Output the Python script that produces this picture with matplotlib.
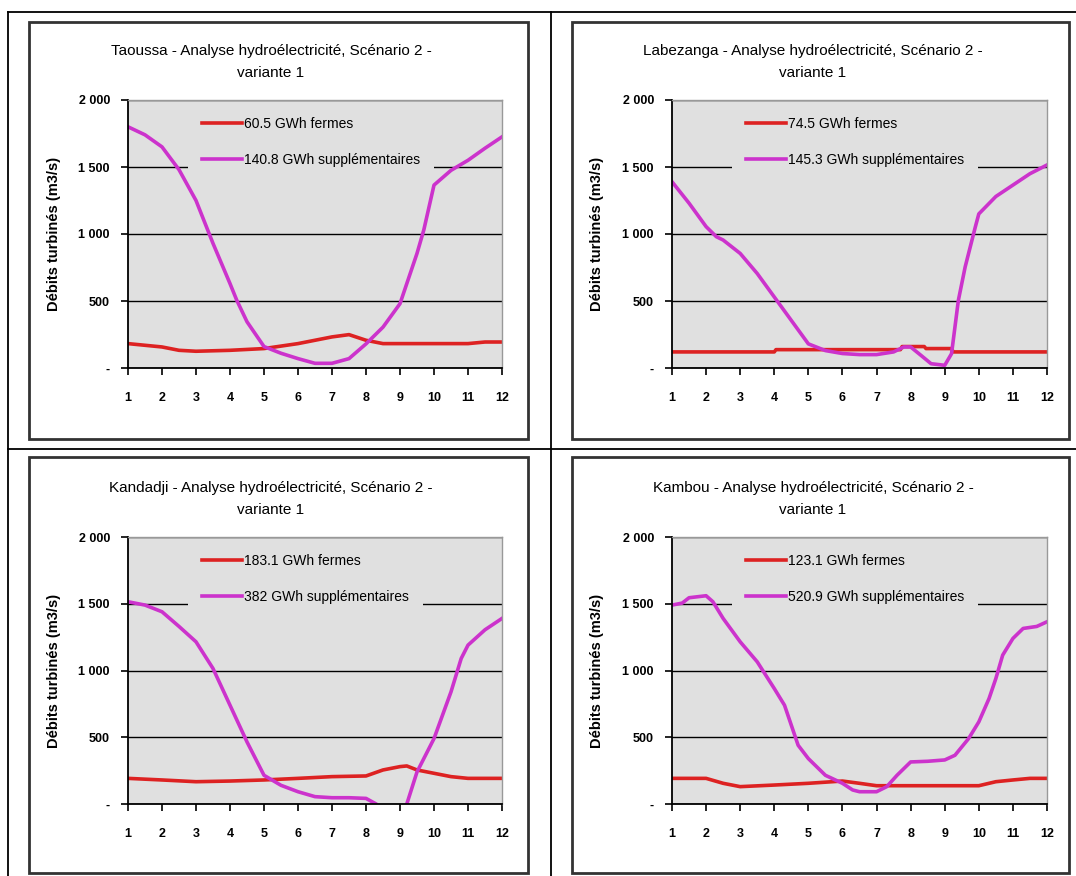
import matplotlib
matplotlib.use("Agg")
import matplotlib.pyplot as plt
from matplotlib.lines import Line2D
from matplotlib.patches import Rectangle

plt.rcParams['font.family'] = ['Liberation Sans', 'DejaVu Sans']

# ---- data (month 1..12, m3/s) ----
titles = ["Taoussa", "Labezanga", "Kandadji", "Kambou"]
legend_fermes = ["60.5 GWh fermes", "74.5 GWh fermes", "183.1 GWh fermes", "123.1 GWh fermes"]
legend_supp = ["140.8 GWh supplémentaires", "145.3 GWh supplémentaires",
               "382 GWh supplémentaires", "520.9 GWh supplémentaires"]

taoussa_x_supp = [1, 1.5, 2, 2.5, 3, 3.5, 4, 4.2, 4.5, 5, 5.5, 6, 6.5, 7, 7.5, 8, 8.5, 9,
                  9.3, 9.5, 9.7, 10, 10.5, 11, 11.5, 12]
taoussa_supp = [1800, 1740, 1650, 1480, 1250, 930, 630, 505, 345, 160, 110, 70, 35, 35, 70,
                180, 305, 480, 705, 855, 1030, 1365, 1475, 1550, 1640, 1725]
taoussa_x_fermes = [1, 2, 2.5, 3, 4, 5, 6, 6.5, 7, 7.5, 8, 8.5, 9, 11, 11.5, 12]
taoussa_fermes = [182, 157, 132, 125, 132, 145, 182, 207, 232, 249, 207, 182, 182, 182, 194, 194]

labezanga_x_supp = [1, 1.5, 2, 2.3, 2.5, 3, 3.5, 4, 4.5, 5, 5.5, 6, 6.5, 7, 7.5, 7.8, 8, 8.3,
                    8.6, 9, 9.2, 9.4, 9.6, 9.9, 10, 10.5, 11, 11.5, 12]
labezanga_supp = [1390, 1230, 1055, 980, 955, 855, 705, 530, 355, 180, 130, 108, 100, 100, 120,
                  157, 157, 95, 32, 20, 107, 505, 755, 1055, 1150, 1280, 1365, 1450, 1515]
labezanga_x_fermes = [1, 4, 4.05, 7.7, 7.75, 8.4, 8.45, 9.2, 9.25, 12]
labezanga_fermes = [120, 120, 137, 137, 160, 160, 145, 145, 120, 120]

kandadji_x_supp = [1, 1.5, 2, 2.5, 3, 3.5, 4, 4.5, 5, 5.5, 6, 6.5, 7, 7.5, 8, 8.3, 8.6, 9,
                   9.2, 9.5, 10, 10.5, 10.8, 11, 11.5, 12]
kandadji_supp = [1515, 1490, 1440, 1330, 1215, 1015, 740, 465, 215, 140, 92, 55, 47, 47, 42, 0,
                 -80, -80, 0, 240, 490, 840, 1090, 1190, 1305, 1390]
kandadji_x_fermes = [1, 2, 3, 4, 5, 6, 7, 8, 8.5, 9, 9.2, 9.5, 10, 10.5, 11, 12]
kandadji_fermes = [192, 180, 167, 172, 180, 192, 205, 210, 255, 280, 285, 255, 230, 205, 192, 192]

kambou_x_supp = [1, 1.3, 1.5, 2, 2.2, 2.5, 3, 3.5, 4, 4.3, 4.5, 4.7, 5, 5.5, 6, 6.3, 6.5, 7,
                 7.3, 7.6, 8, 8.5, 9, 9.3, 9.7, 10, 10.3, 10.5, 10.7, 11, 11.3, 11.7, 12]
kambou_supp = [1490, 1505, 1545, 1560, 1515, 1390, 1215, 1065, 865, 740, 590, 440, 340, 215,
               155, 105, 92, 92, 130, 215, 315, 320, 330, 365, 490, 615, 790, 940, 1115, 1240,
               1315, 1330, 1365]
kambou_x_fermes = [1, 2, 2.5, 3, 4, 5, 6, 6.5, 7, 8, 9, 10, 10.5, 11, 11.5, 12]
kambou_fermes = [192, 192, 155, 130, 142, 155, 172, 155, 137, 137, 137, 137, 167, 180, 192, 192]

supp_x = [taoussa_x_supp, labezanga_x_supp, kandadji_x_supp, kambou_x_supp]
supp_y = [taoussa_supp, labezanga_supp, kandadji_supp, kambou_supp]
fermes_x = [taoussa_x_fermes, labezanga_x_fermes, kandadji_x_fermes, kambou_x_fermes]
fermes_y = [taoussa_fermes, labezanga_fermes, kandadji_fermes, kambou_fermes]

months = list(range(1, 13))
y_ticks = [0, 500, 1000, 1500, 2000]
y_ticklabels = ['-', '500', '1 000', '1 500', '2 000']

W, H = 1076, 876
fig = plt.figure(figsize=(W / 100, H / 100), dpi=100)
fig.patch.set_facecolor('white')


def fx(px):
    return px / W


def fy(py):
    return 1 - py / H


# table grid lines
for (x0, y0, x1, y1) in [(8, 12, 1076, 12), (8, 12, 8, 876), (551, 12, 551, 876),
                         (8, 449, 1076, 449)]:
    fig.add_artist(Line2D([fx(x0), fx(x1)], [fy(y0), fy(y1)], color='black', lw=1.3, zorder=-2))

# chart frames (left, top, right, bottom) and plot areas
frames = [(29, 22, 528, 439), (572, 22, 1069, 439), (29, 457, 528, 873), (572, 457, 1069, 873)]
plots = [(128, 100, 502, 368), (672, 100, 1047, 368), (128, 537, 502, 804), (672, 537, 1047, 804)]
title_cx = [271, 813, 271, 813]

grey = '#e0e0e0'

for i in range(4):
    l, t, r, b = frames[i]
    fig.add_artist(Rectangle((fx(l), fy(b)), fx(r - l), (b - t) / H, transform=fig.transFigure,
                             facecolor='white', edgecolor='#333333', lw=2, zorder=-1))
    l, t, r, b = plots[i]
    ax = fig.add_axes([fx(l), fy(b), fx(r - l), (b - t) / H])
    ax.set_facecolor(grey)

    ax.plot(fermes_x[i], fermes_y[i], color='#dd2222', lw=2.6, label=legend_fermes[i])
    ax.plot(supp_x[i], supp_y[i], color='#cc33cc', lw=2.6, label=legend_supp[i])

    ax.set_xlim(1, 12)
    ax.set_ylim(0, 2000)
    ax.set_xticks(months)
    ax.set_xticklabels([str(m) for m in months])
    ax.set_yticks(y_ticks)
    ax.set_yticklabels(y_ticklabels)
    ax.tick_params(axis='both', direction='out', length=5, width=1.2, labelsize=9)
    ax.tick_params(axis='x', pad=12)
    ax.tick_params(axis='y', pad=8)
    for lab in ax.get_xticklabels() + ax.get_yticklabels():
        lab.set_fontweight('bold')

    ax.yaxis.grid(True, color='black', lw=1)
    ax.set_axisbelow(True)
    for s in ['left', 'bottom']:
        ax.spines[s].set_color('black')
        ax.spines[s].set_linewidth(1.3)
    for s in ['top', 'right']:
        ax.spines[s].set_color('#999999')
        ax.spines[s].set_linewidth(1)

    ax.set_ylabel('Débits turbinés (m3/s)', fontsize=10.5, fontweight='bold')
    ax.yaxis.set_label_coords(-0.18, 0.5)

    leg = ax.legend(loc='upper left', bbox_to_anchor=(0.16, 0.99), borderaxespad=0,
                    frameon=True, facecolor=grey, edgecolor='none', framealpha=1,
                    fontsize=10, handlelength=2.9, handletextpad=0.15, labelspacing=1.6,
                    borderpad=1.0)
    leg.get_frame().set_boxstyle('square', pad=0)

    name = titles[i]
    fig.text(fx(title_cx[i]), fy(t - 49), f"{name} - Analyse hydroélectricité, Scénario 2 -",
             ha='center', va='center', fontsize=11)
    fig.text(fx(title_cx[i]), fy(t - 27), "variante 1", ha='center', va='center', fontsize=11)

fig.savefig('out.png', dpi=100)
